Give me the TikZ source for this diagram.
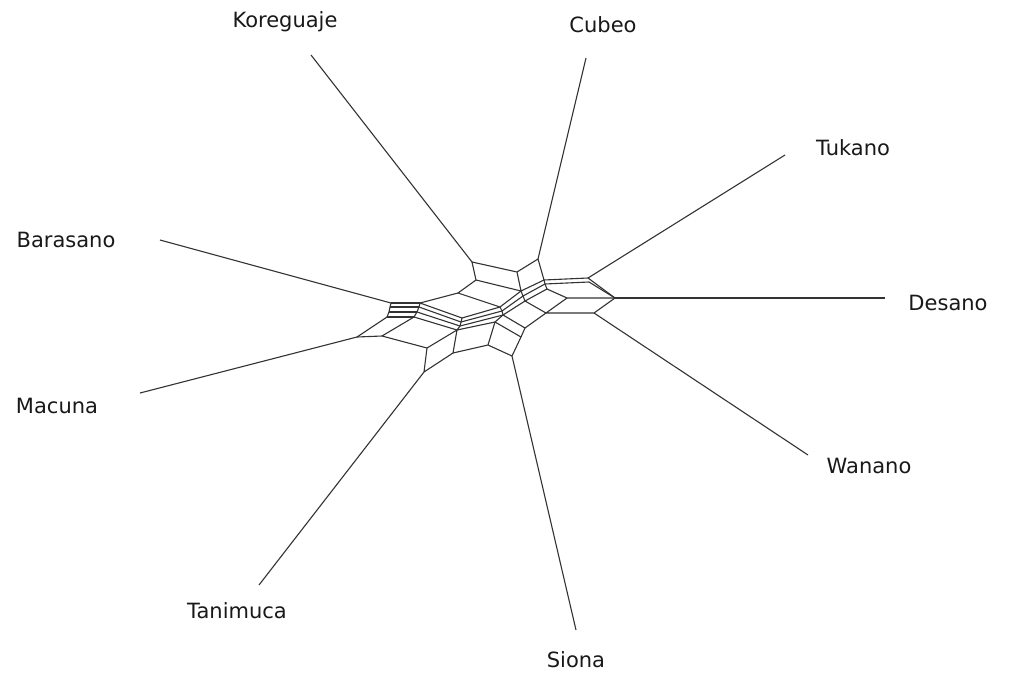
\documentclass[tikz,border=0pt]{standalone}
\usepackage{fontspec}
\setmainfont{DejaVu Sans}
\begin{document}
\begin{tikzpicture}[x=1pt,y=-1pt,
  edge/.style={draw=black!80,line width=1.1pt,line join=round},
  lbl/.style={font=\fontsize{21}{24}\selectfont,text=black!90,inner sep=0pt}]
\useasboundingbox[fill=white] (0,0) rectangle (1012,672);
% labels
\node[lbl] (Kor) at (285,22) {Koreguaje};
\node[lbl] (Cub) at (603,25) {Cubeo};
\node[lbl] (Tuk) at (853,148) {Tukano};
\node[lbl] (Bar) at (66,240) {Barasano};
\node[lbl] (Des) at (948,303) {Desano};
\node[lbl] (Mac) at (57,406) {Macuna};
\node[lbl] (Wan) at (869,466) {Wanano};
\node[lbl] (Tan) at (237,611) {Tanimuca};
\node[lbl] (Sio) at (576,660) {Siona};
% leaf outer ends
\coordinate (lK) at (311,55);
\coordinate (lC) at (586,58);
\coordinate (lT) at (785,155);
\coordinate (lD) at (885,298);
\coordinate (lW) at (808,455);
\coordinate (lS) at (576,630);
\coordinate (lN) at (259,585);
\coordinate (lM) at (140,393);
\coordinate (lB) at (160,240);
% network nodes
\coordinate (K1) at (472,262);
\coordinate (Bq) at (517,272);
\coordinate (C1) at (538,259);
\coordinate (K2) at (476,280);
\coordinate (E) at (521,291);
\coordinate (D) at (544,280);
\coordinate (Eb) at (523,296);
\coordinate (Ec) at (525,301);
\coordinate (Db) at (545,284);
\coordinate (Dc) at (547,289);
\coordinate (T1) at (588,278);
\coordinate (T1b) at (589,282);
\coordinate (D1) at (615,298);
\coordinate (M) at (567,298);
\coordinate (W0) at (546,313);
\coordinate (W1) at (594,313);
\coordinate (X1) at (391,303);
\coordinate (X2) at (420,303);
\coordinate (X1b) at (390,307);
\coordinate (X2b) at (419,307);
\coordinate (X1c) at (389,312);
\coordinate (X2c) at (417,312);
\coordinate (X3) at (387,317);
\coordinate (X4) at (414,317);
\coordinate (G1) at (458,293);
\coordinate (G2) at (500,307);
\coordinate (G2b) at (502,311);
\coordinate (G2c) at (503,315);
\coordinate (H1) at (462,318);
\coordinate (H1b) at (461,322);
\coordinate (H1c) at (460,326);
\coordinate (Q) at (457,330);
\coordinate (V) at (495,322);
\coordinate (S3) at (525,328);
\coordinate (S2) at (521,337);
\coordinate (S1) at (512,356);
\coordinate (U) at (488,345);
\coordinate (R) at (453,353);
\coordinate (N2) at (427,348);
\coordinate (N1) at (424,372);
\coordinate (P) at (382,336);
\coordinate (M1) at (357,337);
% leaf edges
\draw[edge] (lK) -- (K1);
\draw[edge] (lC) -- (C1);
\draw[edge] (lT) -- (T1);
\draw[edge] (lD) -- (D1);
\draw[edge] (lW) -- (W1);
\draw[edge] (lS) -- (S1);
\draw[edge] (lN) -- (N1);
\draw[edge] (lM) -- (M1);
\draw[edge] (lB) -- (X1);
% top cells
\draw[edge] (K1) -- (Bq) -- (C1) -- (D) -- (E) -- (Bq);
\draw[edge] (K1) -- (K2) -- (E);
\draw[edge] (K2) -- (G1) -- (G2) -- (E);
% right cells
\draw[edge] (D) -- (T1) -- (D1);
\draw[edge] (Db) -- (T1b) -- (D1);
\draw[edge] (D) -- (Db) -- (Dc) -- (M) -- (D1);
\draw[edge] (M) -- (W0) -- (W1) -- (D1);
% band
\draw[edge] (E) -- (Eb) -- (Ec);
\draw[edge] (Eb) -- (Db);
\draw[edge] (Ec) -- (Dc);
\draw[edge] (Ec) -- (W0);
\draw[edge] (X2) -- (H1) -- (G2);
\draw[edge] (X2b) -- (H1b) -- (G2b) -- (Eb);
\draw[edge] (X2c) -- (H1c) -- (G2c) -- (Ec);
\draw[edge] (G2) -- (G2b) -- (G2c);
\draw[edge] (H1) -- (H1b) -- (H1c) -- (Q);
\draw[edge] (X4) -- (Q) -- (V) -- (S2);
\draw[edge] (G2c) -- (S3) -- (W0);
\draw[edge] (G2c) -- (V);
\draw[edge] (S3) -- (S2) -- (S1);
\draw[edge] (X2) -- (G1);
% left box
\draw[edge] (X1) -- (X2);
\draw[edge] (X1b) -- (X2b);
\draw[edge] (X1c) -- (X2c);
\draw[edge] (X3) -- (X4);
\draw[edge] (X1) -- (X1b) -- (X1c) -- (X3);
\draw[edge] (X2) -- (X2b) -- (X2c) -- (X4);
% lower left cells
\draw[edge] (M1) -- (X3);
\draw[edge] (M1) -- (P) -- (X4);
\draw[edge] (P) -- (N2) -- (Q);
\draw[edge] (N2) -- (N1) -- (R) -- (Q);
\draw[edge] (R) -- (U) -- (V);
\draw[edge] (U) -- (S1);
\end{tikzpicture}
\end{document}
